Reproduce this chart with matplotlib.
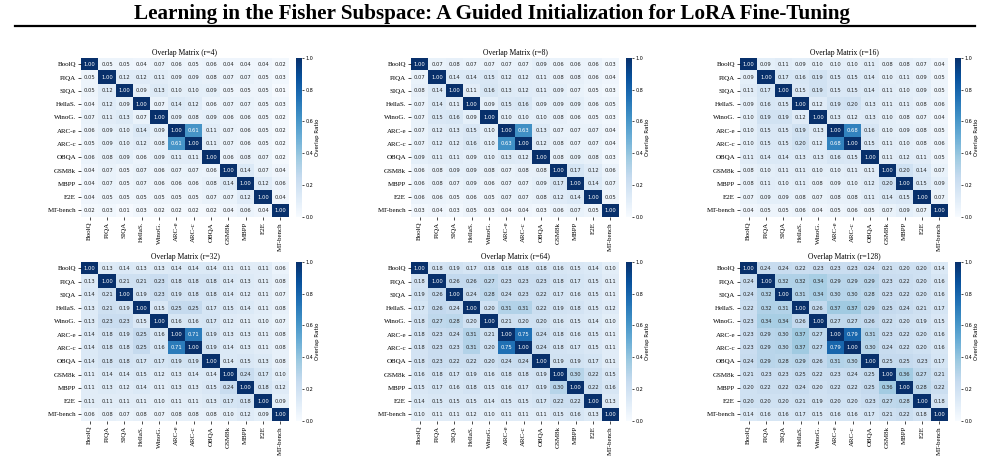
import numpy as np
import matplotlib
matplotlib.use("Agg")
import matplotlib.pyplot as plt
from matplotlib.lines import Line2D

# ---- data ------------------------------------------------------------------ #
labels = ["BoolQ", "PIQA", "SIQA", "HellaS.", "WinoG.", "ARC-e", "ARC-c",
          "OBQA", "GSM8k", "MBPP", "E2E", "MT-bench"]
ranks = [4, 8, 16, 32, 64, 128]

ov_r4 = [
    [1.00, 0.05, 0.05, 0.04, 0.07, 0.06, 0.05, 0.06, 0.04, 0.04, 0.04, 0.02],
    [0.05, 1.00, 0.12, 0.12, 0.11, 0.09, 0.09, 0.08, 0.07, 0.07, 0.05, 0.03],
    [0.05, 0.12, 1.00, 0.09, 0.13, 0.10, 0.10, 0.09, 0.05, 0.05, 0.05, 0.01],
    [0.04, 0.12, 0.09, 1.00, 0.07, 0.14, 0.12, 0.06, 0.07, 0.07, 0.05, 0.03],
    [0.07, 0.11, 0.13, 0.07, 1.00, 0.09, 0.08, 0.09, 0.06, 0.06, 0.05, 0.02],
    [0.06, 0.09, 0.10, 0.14, 0.09, 1.00, 0.61, 0.11, 0.07, 0.06, 0.05, 0.02],
    [0.05, 0.09, 0.10, 0.12, 0.08, 0.61, 1.00, 0.11, 0.07, 0.06, 0.05, 0.02],
    [0.06, 0.08, 0.09, 0.06, 0.09, 0.11, 0.11, 1.00, 0.06, 0.08, 0.07, 0.02],
    [0.04, 0.07, 0.05, 0.07, 0.06, 0.07, 0.07, 0.06, 1.00, 0.14, 0.07, 0.04],
    [0.04, 0.07, 0.05, 0.07, 0.06, 0.06, 0.06, 0.08, 0.14, 1.00, 0.12, 0.06],
    [0.04, 0.05, 0.05, 0.05, 0.05, 0.05, 0.05, 0.07, 0.07, 0.12, 1.00, 0.04],
    [0.02, 0.03, 0.01, 0.03, 0.02, 0.02, 0.02, 0.02, 0.04, 0.06, 0.04, 1.00],
]
ov_r8 = [
    [1.00, 0.07, 0.08, 0.07, 0.07, 0.07, 0.07, 0.09, 0.06, 0.06, 0.06, 0.03],
    [0.07, 1.00, 0.14, 0.14, 0.15, 0.12, 0.12, 0.11, 0.08, 0.08, 0.06, 0.04],
    [0.08, 0.14, 1.00, 0.11, 0.16, 0.13, 0.12, 0.11, 0.09, 0.07, 0.05, 0.03],
    [0.07, 0.14, 0.11, 1.00, 0.09, 0.15, 0.16, 0.09, 0.09, 0.09, 0.06, 0.05],
    [0.07, 0.15, 0.16, 0.09, 1.00, 0.10, 0.10, 0.10, 0.08, 0.06, 0.05, 0.03],
    [0.07, 0.12, 0.13, 0.15, 0.10, 1.00, 0.63, 0.13, 0.07, 0.07, 0.07, 0.04],
    [0.07, 0.12, 0.12, 0.16, 0.10, 0.63, 1.00, 0.12, 0.08, 0.07, 0.07, 0.04],
    [0.09, 0.11, 0.11, 0.09, 0.10, 0.13, 0.12, 1.00, 0.08, 0.09, 0.08, 0.03],
    [0.06, 0.08, 0.09, 0.09, 0.08, 0.07, 0.08, 0.08, 1.00, 0.17, 0.12, 0.06],
    [0.06, 0.08, 0.07, 0.09, 0.06, 0.07, 0.07, 0.09, 0.17, 1.00, 0.14, 0.07],
    [0.06, 0.06, 0.05, 0.06, 0.05, 0.07, 0.07, 0.08, 0.12, 0.14, 1.00, 0.05],
    [0.03, 0.04, 0.03, 0.05, 0.03, 0.04, 0.04, 0.03, 0.06, 0.07, 0.05, 1.00],
]
ov_r16 = [
    [1.00, 0.09, 0.11, 0.09, 0.10, 0.10, 0.10, 0.11, 0.08, 0.08, 0.07, 0.04],
    [0.09, 1.00, 0.17, 0.16, 0.19, 0.15, 0.15, 0.14, 0.10, 0.11, 0.09, 0.05],
    [0.11, 0.17, 1.00, 0.15, 0.19, 0.15, 0.15, 0.14, 0.11, 0.10, 0.09, 0.05],
    [0.09, 0.16, 0.15, 1.00, 0.12, 0.19, 0.20, 0.13, 0.11, 0.11, 0.08, 0.06],
    [0.10, 0.19, 0.19, 0.12, 1.00, 0.13, 0.12, 0.13, 0.10, 0.08, 0.07, 0.04],
    [0.10, 0.15, 0.15, 0.19, 0.13, 1.00, 0.68, 0.16, 0.10, 0.09, 0.08, 0.05],
    [0.10, 0.15, 0.15, 0.20, 0.12, 0.68, 1.00, 0.15, 0.11, 0.10, 0.08, 0.06],
    [0.11, 0.14, 0.14, 0.13, 0.13, 0.16, 0.15, 1.00, 0.11, 0.12, 0.11, 0.05],
    [0.08, 0.10, 0.11, 0.11, 0.10, 0.10, 0.11, 0.11, 1.00, 0.20, 0.14, 0.07],
    [0.08, 0.11, 0.10, 0.11, 0.08, 0.09, 0.10, 0.12, 0.20, 1.00, 0.15, 0.09],
    [0.07, 0.09, 0.09, 0.08, 0.07, 0.08, 0.08, 0.11, 0.14, 0.15, 1.00, 0.07],
    [0.04, 0.05, 0.05, 0.06, 0.04, 0.05, 0.06, 0.05, 0.07, 0.09, 0.07, 1.00],
]
ov_r32 = [
    [1.00, 0.13, 0.14, 0.13, 0.13, 0.14, 0.14, 0.14, 0.11, 0.11, 0.11, 0.06],
    [0.13, 1.00, 0.21, 0.21, 0.23, 0.18, 0.18, 0.18, 0.14, 0.13, 0.11, 0.08],
    [0.14, 0.21, 1.00, 0.19, 0.23, 0.19, 0.18, 0.18, 0.14, 0.12, 0.11, 0.07],
    [0.13, 0.21, 0.19, 1.00, 0.15, 0.25, 0.25, 0.17, 0.15, 0.14, 0.11, 0.08],
    [0.13, 0.23, 0.23, 0.15, 1.00, 0.16, 0.16, 0.17, 0.12, 0.11, 0.10, 0.07],
    [0.14, 0.18, 0.19, 0.25, 0.16, 1.00, 0.71, 0.19, 0.13, 0.13, 0.11, 0.08],
    [0.14, 0.18, 0.18, 0.25, 0.16, 0.71, 1.00, 0.19, 0.14, 0.13, 0.11, 0.08],
    [0.14, 0.18, 0.18, 0.17, 0.17, 0.19, 0.19, 1.00, 0.14, 0.15, 0.13, 0.08],
    [0.11, 0.14, 0.14, 0.15, 0.12, 0.13, 0.14, 0.14, 1.00, 0.24, 0.17, 0.10],
    [0.11, 0.13, 0.12, 0.14, 0.11, 0.13, 0.13, 0.15, 0.24, 1.00, 0.18, 0.12],
    [0.11, 0.11, 0.11, 0.11, 0.10, 0.11, 0.11, 0.13, 0.17, 0.18, 1.00, 0.09],
    [0.06, 0.08, 0.07, 0.08, 0.07, 0.08, 0.08, 0.08, 0.10, 0.12, 0.09, 1.00],
]
ov_r64 = [
    [1.00, 0.18, 0.19, 0.17, 0.18, 0.18, 0.18, 0.18, 0.16, 0.15, 0.14, 0.10],
    [0.18, 1.00, 0.26, 0.26, 0.27, 0.23, 0.23, 0.23, 0.18, 0.17, 0.15, 0.11],
    [0.19, 0.26, 1.00, 0.24, 0.28, 0.24, 0.23, 0.22, 0.17, 0.16, 0.15, 0.11],
    [0.17, 0.26, 0.24, 1.00, 0.20, 0.31, 0.31, 0.22, 0.19, 0.18, 0.15, 0.12],
    [0.18, 0.27, 0.28, 0.20, 1.00, 0.21, 0.20, 0.20, 0.16, 0.15, 0.14, 0.10],
    [0.18, 0.23, 0.24, 0.31, 0.21, 1.00, 0.75, 0.24, 0.18, 0.16, 0.15, 0.11],
    [0.18, 0.23, 0.23, 0.31, 0.20, 0.75, 1.00, 0.24, 0.18, 0.17, 0.15, 0.11],
    [0.18, 0.23, 0.22, 0.22, 0.20, 0.24, 0.24, 1.00, 0.19, 0.19, 0.17, 0.11],
    [0.16, 0.18, 0.17, 0.19, 0.16, 0.18, 0.18, 0.19, 1.00, 0.30, 0.22, 0.15],
    [0.15, 0.17, 0.16, 0.18, 0.15, 0.16, 0.17, 0.19, 0.30, 1.00, 0.22, 0.16],
    [0.14, 0.15, 0.15, 0.15, 0.14, 0.15, 0.15, 0.17, 0.22, 0.22, 1.00, 0.13],
    [0.10, 0.11, 0.11, 0.12, 0.10, 0.11, 0.11, 0.11, 0.15, 0.16, 0.13, 1.00],
]
ov_r128 = [
    [1.00, 0.24, 0.24, 0.22, 0.23, 0.23, 0.23, 0.24, 0.21, 0.20, 0.20, 0.14],
    [0.24, 1.00, 0.32, 0.32, 0.34, 0.29, 0.29, 0.29, 0.23, 0.22, 0.20, 0.16],
    [0.24, 0.32, 1.00, 0.31, 0.34, 0.30, 0.30, 0.28, 0.23, 0.22, 0.20, 0.16],
    [0.22, 0.32, 0.31, 1.00, 0.26, 0.37, 0.37, 0.29, 0.25, 0.24, 0.21, 0.17],
    [0.23, 0.34, 0.34, 0.26, 1.00, 0.27, 0.27, 0.26, 0.22, 0.20, 0.19, 0.15],
    [0.23, 0.29, 0.30, 0.37, 0.27, 1.00, 0.79, 0.31, 0.23, 0.22, 0.20, 0.16],
    [0.23, 0.29, 0.30, 0.37, 0.27, 0.79, 1.00, 0.30, 0.24, 0.22, 0.20, 0.16],
    [0.24, 0.29, 0.28, 0.29, 0.26, 0.31, 0.30, 1.00, 0.25, 0.25, 0.23, 0.17],
    [0.21, 0.23, 0.23, 0.25, 0.22, 0.23, 0.24, 0.25, 1.00, 0.36, 0.27, 0.21],
    [0.20, 0.22, 0.22, 0.24, 0.20, 0.22, 0.22, 0.25, 0.36, 1.00, 0.28, 0.22],
    [0.20, 0.20, 0.20, 0.21, 0.19, 0.20, 0.20, 0.23, 0.27, 0.28, 1.00, 0.18],
    [0.14, 0.16, 0.16, 0.17, 0.15, 0.16, 0.16, 0.17, 0.21, 0.22, 0.18, 1.00],
]
mats = [ov_r4, ov_r8, ov_r16, ov_r32, ov_r64, ov_r128]

# ---- layout (pixel boxes) -------------------------------------------------- #
W, H = 985, 458
SERIF = "Liberation Serif"
fig = plt.figure(figsize=(W / 100, H / 100), dpi=100)

fig.text(0.5, 1 - 14 / H,
         "Learning in the Fisher Subspace: A Guided Initialization for LoRA Fine-Tuning",
         ha="center", va="center", fontsize=15.2, fontweight="bold", family=SERIF)
fig.add_artist(Line2D([15 / W, 975 / W], [1 - 26 / H] * 2, color="black", lw=1.6))

cmap = plt.get_cmap("Blues")
lefts = [81, 411, 740]
tops = [57.6, 261.6]
hw, hh = 208, 159.5


def lum(rgb):
    c = np.array(rgb[:3])
    c = np.where(c <= 0.03928, c / 12.92, ((c + 0.055) / 1.055) ** 2.4)
    return 0.2126 * c[0] + 0.7152 * c[1] + 0.0722 * c[2]


n = len(labels)
for k, (r, M) in enumerate(zip(ranks, mats)):
    M = np.array(M)
    x0, y0 = lefts[k % 3], tops[k // 3]
    ax = fig.add_axes([x0 / W, 1 - (y0 + hh) / H, hw / W, hh / H])
    im = ax.imshow(M, cmap=cmap, vmin=0, vmax=1, aspect="auto")
    for i in range(n):
        for j in range(n):
            col = ".15" if lum(cmap(M[i, j])) > 0.408 else "w"
            ax.text(j, i, f"{M[i, j]:.2f}", ha="center", va="center",
                    fontsize=3.8, color=col)
    ax.set_xticks(range(n))
    ax.set_xticklabels(labels, rotation=90, family=SERIF, fontsize=5)
    ax.set_yticks(range(n))
    ax.set_yticklabels(labels, family=SERIF, fontsize=5)
    ax.tick_params(length=2, width=0.5, pad=1.5)
    for s in ax.spines.values():
        s.set_visible(False)
    ax.set_title(f"Overlap Matrix (r={r})", family=SERIF, fontsize=5.5, pad=2)

    cax = fig.add_axes([(x0 + hw + 7) / W, 1 - (y0 + hh) / H, 6 / W, hh / H])
    cb = fig.colorbar(im, cax=cax)
    cb.outline.set_visible(False)
    cb.set_ticks([0, 0.2, 0.4, 0.6, 0.8, 1.0])
    cb.ax.tick_params(labelsize=3.5, length=1.5, width=0.5, pad=1)
    cb.set_label("Overlap Ratio", fontsize=4, labelpad=1.5)

fig.savefig("out.png", dpi=100)
